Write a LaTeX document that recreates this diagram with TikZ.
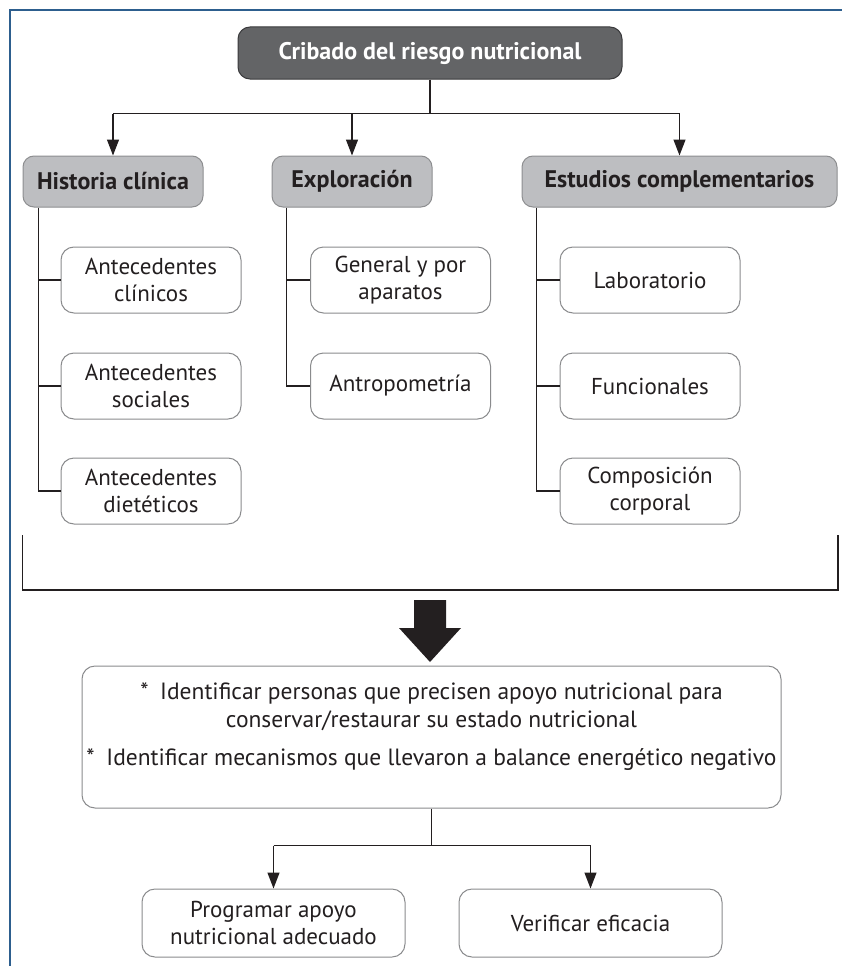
\documentclass[tikz,border=0pt]{standalone}
\usepackage{fontspec}
\setmainfont{PT Sans}
\usetikzlibrary{arrows.meta,calc}
\definecolor{frameblue}{HTML}{2D5E8E}
\definecolor{darkfill}{HTML}{636466}
\definecolor{darkedge}{HTML}{3A3A3C}
\definecolor{midfill}{HTML}{BDBEC1}
\definecolor{midedge}{HTML}{8D8E90}
\definecolor{boxedge}{HTML}{8A8B8D}
\definecolor{ink}{HTML}{231F20}
\tikzset{
  base/.style={rectangle, align=center, inner sep=0pt, font=\fontsize{23}{27}\selectfont},
  topbox/.style={base, fill=darkfill, draw=darkedge, line width=1pt, rounded corners=12pt,
    text=white, font=\fontsize{24}{27}\selectfont\bfseries, minimum width=384pt, minimum height=52pt},
  groupbox/.style={base, fill=midfill, draw=midedge, line width=1pt, rounded corners=11pt,
    text=ink, font=\fontsize{24}{27}\selectfont\bfseries, minimum height=51pt},
  itembox/.style={base, fill=white, draw=boxedge, line width=1pt, rounded corners=13pt,
    text=ink, minimum width=180pt, minimum height=66pt},
  wire/.style={draw=ink, line width=1.3pt},
  arrowwire/.style={wire, -{Triangle[length=16pt,width=12pt]}},
}
\begin{document}
\begin{tikzpicture}[x=1pt,y=-1pt]
\useasboundingbox (0,0) rectangle (842,966);
% page frame (left and top rules)
\draw[frameblue, line width=2pt] (10,966) -- (10,10) -- (842,10);

% header
\node[topbox] (crib) at (430,53) {Cribado del riesgo nutricional};

% three groups
\node[groupbox, minimum width=180pt] (hist) at (113,181.5) {Historia clínica};
\node[groupbox, minimum width=160pt] (expl) at (352,181.5) {Exploración};
\node[groupbox, minimum width=315pt] (estu) at (679.5,181.5) {Estudios complementarios};

% items of each group
\node[itembox] (h1) at (151,280) {Antecedentes\\clínicos};
\node[itembox] (h2) at (151,386) {Antecedentes\\sociales};
\node[itembox] (h3) at (151,491) {Antecedentes\\dietéticos};
\node[itembox] (e1) at (400.5,280) {General y por\\aparatos};
\node[itembox] (e2) at (400.5,386) {Antropometría};
\node[itembox] (s1) at (650,280) {Laboratorio};
\node[itembox] (s2) at (650,386) {Funcionales};
\node[itembox] (s3) at (650,491) {Composición\\corporal};

% header to groups
\draw[wire] (crib.south) -- ++(0,34) coordinate (j1);
\draw[wire] (hist.north |- j1) -- (estu.north |- j1);
\draw[arrowwire] (hist.north |- j1) -- (hist.north);
\draw[arrowwire] (expl.north |- j1) -- (expl.north);
\draw[arrowwire] (estu.north |- j1) -- (estu.north);

% group trunks and branches
\coordinate (th) at ($(hist.south west)+(16,0)$);
\coordinate (te) at ($(expl.south west)+(15,0)$);
\coordinate (ts) at ($(estu.south west)+(15,0)$);
\draw[wire] (th) |- (h3.west);
\draw[wire] (th |- h1.west) -- (h1.west);
\draw[wire] (th |- h2.west) -- (h2.west);
\draw[wire] (te) |- (e2.west);
\draw[wire] (te |- e1.west) -- (e1.west);
\draw[wire] (ts) |- (s3.west);
\draw[wire] (ts |- s1.west) -- (s1.west);
\draw[wire] (ts |- s2.west) -- (s2.west);

% bracket gathering the three groups
\coordinate (bl) at (22.5,535);
\coordinate (br) at (838,535);
\draw[wire] (bl) -- (22.5,590) -- (838,590) -- (br);

% big downward arrow
\fill[ink] (414,600) -- (446,600) -- (446,628) -- (461,628) -- (430,662)
  -- (399,628) -- (414,628) -- cycle;

% goals box (extra text depth lifts the lines a little)
\node[itembox, minimum width=699pt, minimum height=142pt, text depth=26pt,
      font=\fontsize{23.5}{28}\selectfont] (goal) at (431.5,737)
  {*\enspace Identificar personas que precisen apoyo nutricional para\\
   conservar/restaurar su estado nutricional\\[10pt]
   *\enspace Identificar mecanismos que llevaron a balance energético negativo};

% actions
\node[itembox, minimum width=263pt, minimum height=68pt] (prog) at (273.5,923)
  {Programar apoyo\\nutricional adecuado};
\node[itembox, minimum width=263pt, minimum height=68pt] (veri) at (590.5,923)
  {Verificar eficacia};

\draw[wire] (goal.south) -- ++(0,37) coordinate (j2);
\draw[wire] (prog.north |- j2) -- (veri.north |- j2);
\draw[arrowwire] (prog.north |- j2) -- (prog.north);
\draw[arrowwire] (veri.north |- j2) -- (veri.north);
\end{tikzpicture}
\end{document}
